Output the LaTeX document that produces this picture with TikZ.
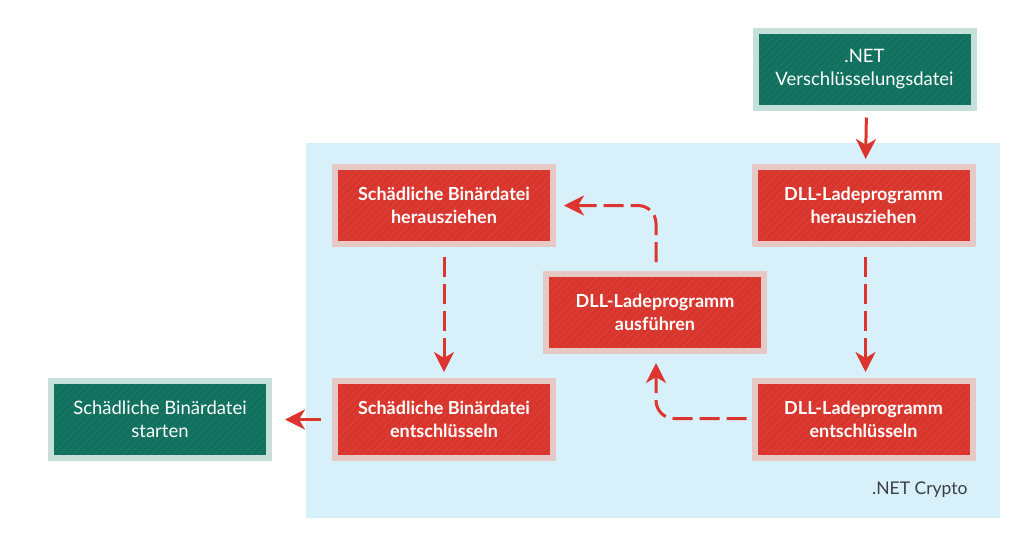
\documentclass[tikz,border=0pt]{standalone}
\usepackage{fontspec}
\setmainfont{Lato}
\usetikzlibrary{arrows.meta,patterns.meta}
\definecolor{bgblue}{HTML}{D7F0FA}
\definecolor{redfill}{HTML}{D8352D}
\definecolor{redhatch}{HTML}{DE463E}
\definecolor{redborder}{HTML}{E6C9C5}
\definecolor{greenfill}{HTML}{11715E}
\definecolor{greenhatch}{HTML}{1F7C68}
\definecolor{greenborder}{HTML}{C5E0D8}
\definecolor{arrowred}{HTML}{DC3530}
\definecolor{labelgray}{HTML}{3A3F44}
\tikzset{
  boxbase/.style={minimum width=218pt, minimum height=77pt, line width=6pt,
    inner sep=0pt, align=center, text=white},
  redbox/.style={boxbase, draw=redborder,
    preaction={fill=redfill},
    preaction={pattern={Lines[angle=45,distance=5pt,line width=0.6pt]}, pattern color=redhatch},
    font=\fontsize{18}{23}\selectfont\bfseries},
  greenbox/.style={boxbase, draw=greenborder,
    preaction={fill=greenfill},
    preaction={pattern={Lines[angle=45,distance=5pt,line width=0.6pt]}, pattern color=greenhatch},
    font=\fontsize{18.5}{23}\selectfont},
  flow/.style={draw=arrowred, line width=3pt, dash pattern=on 20pt off 7pt,
    -{Stealth[length=20pt,width=20pt,inset=6pt]}},
  flowsolid/.style={draw=arrowred, line width=3pt,
    -{Stealth[length=20pt,width=20pt,inset=6pt]}}
}
\begin{document}
\begin{tikzpicture}[x=1pt,y=-1pt]
\useasboundingbox (0,0) rectangle (1024,542);
\fill[white] (0,0) rectangle (1024,542);
\fill[bgblue] (306,143) rectangle (1000,518);
\node[font=\fontsize{17.5}{20}\selectfont, text=labelgray, anchor=east] (crypto) at (971,490) {.NET Crypto};

\node[greenbox] (netfile) at (864.5,69) {.NET\\Verschlüsselungsdatei};
\node[redbox] (dllextract) at (863.5,205.5) {DLL-Ladeprogramm\\herausziehen};
\node[redbox] (binextract) at (444,205.5) {Schädliche Binärdatei\\herausziehen};
\node[redbox] (dllrun) at (655,312.5) {DLL-Ladeprogramm\\ausführen};
\node[redbox] (bindecrypt) at (444,419.5) {Schädliche Binärdatei\\entschlüsseln};
\node[redbox] (dlldecrypt) at (863.5,419.5) {DLL-Ladeprogramm\\entschlüsseln};
\node[greenbox] (binstart) at (160,419.5) {Schädliche Binärdatei\\starten};

\draw[flowsolid, shorten <=7pt, shorten >=5pt] ([xshift=2pt]netfile.south) -- ([xshift=2pt]dllextract.north);
\draw[flow, shorten <=10pt, shorten >=6pt] ([xshift=2pt]dllextract.south) -- ([xshift=2pt]dlldecrypt.north);
\draw[flow, shorten <=10pt, shorten >=6pt] (binextract.south) -- (bindecrypt.north);
\draw[flow, rounded corners=18pt, shorten <=5pt, shorten >=9pt] ([yshift=1pt]dlldecrypt.west) -| ([xshift=1pt]dllrun.south);
\draw[flow, rounded corners=18pt, shorten <=9pt, shorten >=8pt] ([xshift=1pt]dllrun.north) |- (binextract.east);
\draw[flowsolid, shorten <=11pt, shorten >=13pt] (bindecrypt.west) -- (binstart.east);
\end{tikzpicture}
\end{document}
